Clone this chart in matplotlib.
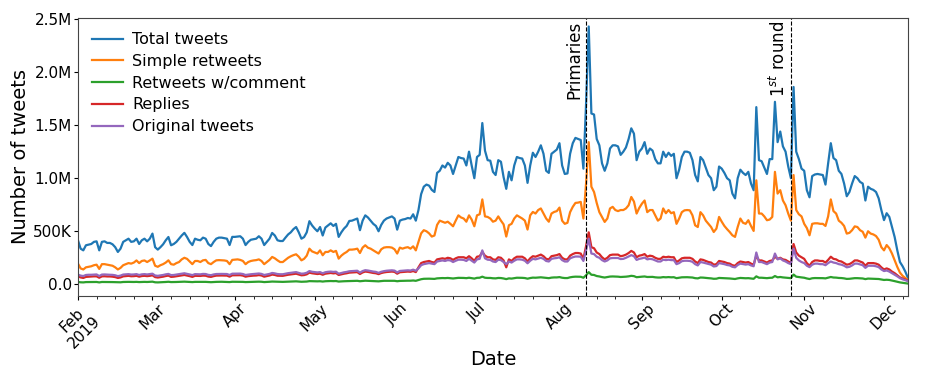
import numpy as np
import pandas as pd
import matplotlib
matplotlib.use('Agg')
import matplotlib.pyplot as plt
import matplotlib.dates as mdates
from matplotlib.ticker import FixedLocator, FixedFormatter

# daily counts (millions of tweets), 1 Feb 2019 -> 10 Dec 2019
start_date = '2019-02-01'

total = [
    .415, .336, .32, .368, .374, .38, .40,
    .405, .32, .40, .405, .39, .39, .377,
    .35, .305, .336, .40, .415, .43, .40,
    .405, .43, .38, .415, .43, .405, .43,
    .478, .35, .327, .35, .377, .415, .446,
    .368, .38, .40, .43, .46, .485, .446,
    .40, .37, .43, .42, .415, .44, .43,
    .38, .36, .40, .43, .44, .44, .435,
    .43, .37, .447, .447, .45, .453, .43,
    .37, .40, .42, .425, .43, .453, .43,
    .37, .40, .43, .484, .46, .415, .408,
    .408, .44, .47, .49, .52, .54, .49,
    .43, .445, .49, .595, .555, .525, .50,
    .54, .46, .535, .555, .575, .55, .57,
    .447, .49, .525, .55, .597, .60, .61,
    .62, .51, .60, .65, .63, .60, .57,
    .55, .50, .56, .60, .62, .63, .64,
    .62, .515, .60, .61, .615, .625, .62,
    .66, .60, .70, .85, .92, .94, .93,
    .89, .87, 1.05, 1.07, 1.12, 1.10, 1.145,
    1.12, 1.04, 1.12, 1.20, 1.19, 1.185, 1.12,
    1.25, 1.12, 1.0, 1.20, 1.22, 1.52, 1.26,
    1.17, 1.165, 1.06, 1.03, 1.17, 1.155, 1.01,
    .90, 1.06, .98, 1.12, 1.20, 1.19, 1.185,
    1.12, .956, 1.12, 1.24, 1.20, 1.25, 1.31,
    1.23, 1.07, 1.05, 1.23, 1.25, 1.27, 1.33,
    1.12, 1.04, 1.045, 1.23, 1.33, 1.38, 1.37,
    1.36, 1.09, 1.70, 2.43, 1.61, 1.60, 1.37,
    1.31, 1.14, 1.07, 1.14, 1.28, 1.31, 1.31,
    1.30, 1.22, 1.25, 1.29, 1.37, 1.47, 1.42,
    1.17, 1.25, 1.28, 1.34, 1.23, 1.28, 1.26,
    1.18, 1.14, 1.14, 1.25, 1.20, 1.24, 1.21,
    1.23, 1.0, 1.08, 1.20, 1.25, 1.25, 1.24,
    1.17, 1.03, .97, 1.20, 1.17, 1.10, 1.03,
    1.0, .887, .92, 1.11, 1.09, 1.05, 1.0,
    .98, .855, .81, 1.0, 1.08, 1.05, 1.03,
    1.06, .95, .887, 1.67, 1.17, 1.16, 1.10,
    1.04, 1.18, 1.18, 1.72, 1.34, 1.44, 1.30,
    1.25, 1.11, 1.0, 1.86, 1.25, 1.18, 1.09,
    1.07, .887, .82, 1.02, 1.035, 1.04, 1.035,
    1.03, .94, 1.14, 1.33, 1.19, 1.17, 1.07,
    1.04, .95, .83, .87, .95, 1.02, 1.0,
    .965, .95, .79, .92, .90, .89, .87,
    .81, .70, .605, .67, .635, .54, .446,
    .32, .21, .17, .12, .06,
]

simple_rt = [
    .195, .15, .14, .16, .165, .17, .18,
    .185, .145, .19, .19, .185, .18, .175,
    .16, .14, .155, .18, .19, .20, .195,
    .205, .225, .20, .22, .225, .21, .225,
    .242, .175, .165, .18, .19, .205, .226,
    .19, .185, .20, .21, .235, .25, .24,
    .215, .19, .22, .22, .21, .226, .23,
    .20, .19, .21, .226, .228, .226, .225,
    .22, .19, .23, .232, .235, .23, .22,
    .19, .21, .22, .225, .228, .235, .22,
    .19, .21, .23, .258, .245, .226, .21,
    .21, .23, .25, .264, .275, .283, .26,
    .226, .24, .27, .336, .31, .30, .29,
    .32, .274, .305, .305, .32, .305, .315,
    .242, .27, .29, .305, .327, .327, .33,
    .336, .295, .346, .368, .345, .336, .32,
    .305, .29, .33, .346, .35, .35, .346,
    .33, .29, .346, .336, .345, .35, .336,
    .358, .32, .40, .48, .51, .50, .48,
    .45, .46, .56, .60, .59, .58, .59,
    .57, .547, .60, .65, .63, .62, .59,
    .65, .61, .547, .65, .66, .80, .64,
    .635, .62, .59, .60, .64, .60, .565,
    .45, .557, .57, .62, .65, .635, .62,
    .60, .516, .65, .682, .667, .70, .715,
    .667, .62, .59, .667, .682, .69, .723,
    .60, .57, .58, .68, .73, .767, .77,
    .777, .62, .95, 1.34, .92, .87, .767,
    .68, .635, .588, .62, .715, .73, .70,
    .69, .70, .70, .715, .745, .823, .78,
    .667, .72, .76, .79, .68, .70, .70,
    .65, .60, .62, .715, .67, .70, .67,
    .68, .57, .62, .68, .697, .70, .697,
    .65, .556, .54, .68, .65, .60, .57,
    .54, .493, .525, .635, .59, .55, .52,
    .493, .462, .447, .54, .62, .58, .57,
    .604, .55, .503, .98, .667, .667, .64,
    .604, .61, .635, 1.06, .855, .887, .79,
    .745, .667, .60, 1.03, .70, .66, .64,
    .57, .53, .462, .57, .575, .575, .57,
    .57, .55, .64, .80, .69, .667, .60,
    .58, .55, .478, .485, .51, .546, .54,
    .51, .495, .44, .50, .478, .47, .455,
    .42, .35, .32, .37, .34, .29, .226,
    .164, .11, .08, .06, .04,
]

rt_comment = [
    .022, .019, .018, .021, .021, .022, .022,
    .022, .018, .022, .022, .022, .021, .021,
    .02, .018, .019, .022, .023, .023, .022,
    .022, .023, .021, .022, .023, .022, .023,
    .025, .019, .018, .019, .021, .022, .024,
    .021, .021, .022, .023, .024, .025, .024,
    .022, .021, .023, .023, .022, .023, .023,
    .021, .02, .022, .023, .024, .024, .023,
    .023, .021, .024, .024, .024, .024, .023,
    .021, .022, .023, .023, .024, .025, .024,
    .021, .022, .024, .026, .025, .023, .023,
    .023, .024, .025, .026, .027, .028, .026,
    .024, .025, .026, .03, .029, .028, .028,
    .029, .026, .029, .03, .031, .03, .031,
    .026, .028, .029, .03, .032, .032, .033,
    .033, .029, .032, .034, .033, .032, .031,
    .03, .028, .031, .033, .033, .034, .034,
    .033, .029, .032, .033, .034, .034, .034,
    .036, .033, .04, .048, .052, .053, .053,
    .052, .051, .056, .058, .059, .058, .06,
    .058, .055, .058, .061, .061, .06, .058,
    .062, .058, .054, .061, .062, .072, .062,
    .06, .06, .057, .056, .06, .059, .055,
    .049, .056, .054, .058, .062, .062, .061,
    .059, .053, .059, .063, .062, .064, .066,
    .063, .059, .058, .063, .065, .065, .068,
    .062, .059, .059, .066, .07, .072, .072,
    .071, .062, .085, .115, .09, .088, .078,
    .074, .068, .064, .068, .073, .074, .073,
    .072, .069, .07, .072, .075, .08, .077,
    .067, .07, .072, .074, .069, .07, .07,
    .066, .064, .064, .068, .066, .068, .066,
    .067, .058, .062, .066, .067, .067, .066,
    .064, .058, .056, .064, .063, .06, .058,
    .056, .052, .053, .06, .059, .058, .056,
    .055, .052, .05, .056, .06, .058, .057,
    .058, .055, .052, .075, .062, .062, .06,
    .058, .061, .062, .078, .066, .069, .065,
    .063, .06, .058, .092, .072, .068, .065,
    .062, .055, .05, .057, .059, .059, .058,
    .058, .056, .062, .069, .064, .063, .06,
    .059, .056, .051, .052, .055, .058, .058,
    .056, .055, .049, .054, .053, .053, .052,
    .05, .045, .041, .043, .041, .036, .03,
    .024, .018, .014, .01, .007,
]

replies = [
    .075, .065, .06, .07, .072, .073, .075,
    .075, .062, .075, .076, .074, .074, .072,
    .068, .06, .065, .075, .078, .08, .076,
    .077, .08, .072, .078, .08, .077, .08,
    .085, .068, .064, .068, .072, .078, .082,
    .07, .072, .076, .08, .085, .088, .083,
    .077, .07, .08, .08, .079, .082, .081,
    .073, .07, .077, .082, .083, .083, .082,
    .082, .072, .085, .085, .086, .086, .082,
    .072, .077, .08, .082, .083, .087, .083,
    .072, .078, .083, .092, .088, .081, .08,
    .08, .085, .09, .093, .097, .10, .093,
    .085, .087, .094, .11, .104, .10, .097,
    .10, .09, .10, .104, .107, .103, .106,
    .088, .094, .10, .104, .11, .112, .113,
    .115, .097, .112, .12, .117, .112, .107,
    .104, .096, .106, .112, .116, .118, .12,
    .117, .10, .114, .116, .117, .12, .118,
    .125, .115, .16, .20, .21, .215, .22,
    .21, .205, .235, .24, .245, .24, .25,
    .245, .23, .245, .255, .255, .255, .245,
    .265, .245, .22, .26, .265, .305, .27,
    .255, .255, .235, .23, .255, .25, .225,
    .16, .235, .22, .245, .26, .26, .26,
    .245, .215, .245, .265, .26, .27, .28,
    .265, .24, .235, .265, .27, .275, .285,
    .25, .235, .235, .27, .285, .295, .295,
    .29, .24, .36, .49, .35, .34, .30,
    .285, .255, .235, .25, .275, .28, .28,
    .28, .265, .27, .28, .295, .315, .30,
    .255, .27, .275, .285, .26, .27, .265,
    .25, .24, .24, .26, .255, .26, .255,
    .255, .21, .225, .245, .25, .25, .25,
    .24, .215, .20, .235, .23, .22, .21,
    .205, .185, .19, .22, .215, .21, .20,
    .195, .18, .175, .20, .215, .21, .205,
    .21, .195, .185, .27, .225, .225, .215,
    .205, .22, .225, .26, .24, .25, .235,
    .23, .215, .20, .38, .30, .27, .255,
    .24, .20, .175, .21, .225, .225, .22,
    .22, .205, .23, .26, .24, .235, .22,
    .215, .20, .185, .19, .205, .225, .225,
    .215, .205, .175, .20, .20, .20, .195,
    .185, .16, .14, .15, .14, .12, .105,
    .085, .065, .055, .045, .035,
]

original = [
    .092, .082, .078, .088, .09, .09, .092,
    .093, .078, .092, .093, .091, .09, .089,
    .085, .077, .082, .092, .094, .096, .092,
    .093, .096, .088, .094, .096, .093, .096,
    .10, .083, .08, .084, .088, .094, .098,
    .087, .088, .092, .096, .10, .104, .099,
    .093, .087, .096, .095, .094, .098, .097,
    .089, .086, .093, .097, .098, .098, .097,
    .097, .088, .10, .10, .101, .101, .097,
    .088, .092, .095, .097, .098, .102, .098,
    .088, .093, .098, .107, .103, .097, .095,
    .095, .10, .105, .108, .112, .115, .108,
    .10, .102, .109, .125, .118, .115, .112,
    .115, .104, .114, .118, .12, .117, .119,
    .10, .107, .113, .117, .123, .125, .126,
    .128, .11, .125, .133, .13, .125, .12,
    .117, .108, .118, .124, .128, .13, .132,
    .129, .112, .126, .128, .129, .132, .13,
    .138, .128, .15, .18, .19, .195, .20,
    .195, .19, .215, .22, .225, .22, .228,
    .225, .21, .222, .232, .232, .23, .22,
    .24, .222, .205, .235, .24, .32, .245,
    .232, .23, .215, .21, .232, .228, .21,
    .19, .215, .205, .222, .235, .235, .232,
    .222, .198, .222, .24, .235, .242, .25,
    .24, .22, .215, .24, .245, .248, .255,
    .228, .215, .215, .245, .255, .262, .262,
    .26, .22, .32, .43, .29, .285, .26,
    .25, .228, .215, .225, .245, .248, .248,
    .248, .238, .24, .25, .262, .275, .265,
    .23, .24, .245, .252, .235, .24, .236,
    .225, .215, .215, .232, .228, .232, .228,
    .228, .19, .20, .218, .222, .222, .22,
    .212, .19, .178, .21, .205, .198, .19,
    .185, .168, .172, .20, .195, .19, .182,
    .178, .165, .16, .182, .195, .19, .186,
    .19, .178, .17, .30, .21, .21, .20,
    .19, .205, .21, .29, .235, .245, .225,
    .215, .20, .19, .337, .25, .225, .21,
    .20, .175, .162, .185, .195, .195, .19,
    .19, .18, .20, .215, .205, .20, .19,
    .185, .175, .16, .165, .178, .195, .195,
    .188, .18, .155, .175, .175, .175, .17,
    .162, .14, .125, .13, .12, .105, .09,
    .075, .058, .047, .038, .03,
]

series = [
    ('Total tweets', total, '#1f77b4'),
    ('Simple retweets', simple_rt, '#ff7f0e'),
    ('Retweets w/comment', rt_comment, '#2ca02c'),
    ('Replies', replies, '#d62728'),
    ('Original tweets', original, '#9467bd'),
]

events = [('2019-08-11', 'Primaries'), ('2019-10-27', '1$^{st}$ round')]

month_ticks = pd.date_range('2019-02-01', '2019-12-01', freq='MS')
month_labels = ['Feb\n2019', 'Mar', 'Apr', 'May', 'Jun', 'Jul', 'Aug',
                'Sep', 'Oct', 'Nov', 'Dec']
ytick_vals = [0, 0.5e6, 1.0e6, 1.5e6, 2.0e6, 2.5e6]
ytick_labels = ['0.0', '500K', '1.0M', '1.5M', '2.0M', '2.5M']

dates = pd.date_range(start_date, periods=len(total), freq='D')

fig = plt.figure(figsize=(9.26, 3.86), dpi=100)
ax = fig.add_axes([0.0842, 0.2332, 0.8963, 0.7202])

for name, vals, color in series:
    ax.plot(dates, np.array(vals) * 1e6, color=color, lw=1.6, label=name)

for day, label in events:
    d = pd.Timestamp(day)
    ax.axvline(d, color='black', ls='--', lw=0.8)
    ax.text(d - pd.Timedelta(hours=20), 2.48e6, label, rotation=90,
            ha='right', va='top', fontsize=12)

ax.set_xlim(dates[0], dates[-1])
ax.set_ylim(-0.11e6, 2.51e6)

ax.xaxis.set_major_locator(FixedLocator(mdates.date2num(month_ticks)))
ax.xaxis.set_major_formatter(FixedFormatter(month_labels))
ax.xaxis.set_minor_locator(mdates.DayLocator(bymonthday=[8, 15, 22]))
plt.setp(ax.get_xticklabels(), rotation=45, ha='center')
ax.yaxis.set_major_locator(FixedLocator(ytick_vals))
ax.yaxis.set_major_formatter(FixedFormatter(ytick_labels))
ax.tick_params(labelsize=11)
ax.tick_params(axis='y', which='major', length=3, pad=1.5)
ax.tick_params(axis='x', which='major', length=3, pad=0.5)
ax.tick_params(axis='x', which='minor', length=2)

for sp in ax.spines.values():
    sp.set_color('#444444')

ax.set_xlabel('Date', fontsize=14, labelpad=-1)
ax.set_ylabel('Number of tweets', fontsize=14, labelpad=2)
ax.legend(loc='upper left', frameon=False, fontsize=11.5,
          handlelength=1.9, handletextpad=0.6, borderaxespad=0.5,
          labelspacing=0.42)

fig.savefig('out.png', dpi=100)
